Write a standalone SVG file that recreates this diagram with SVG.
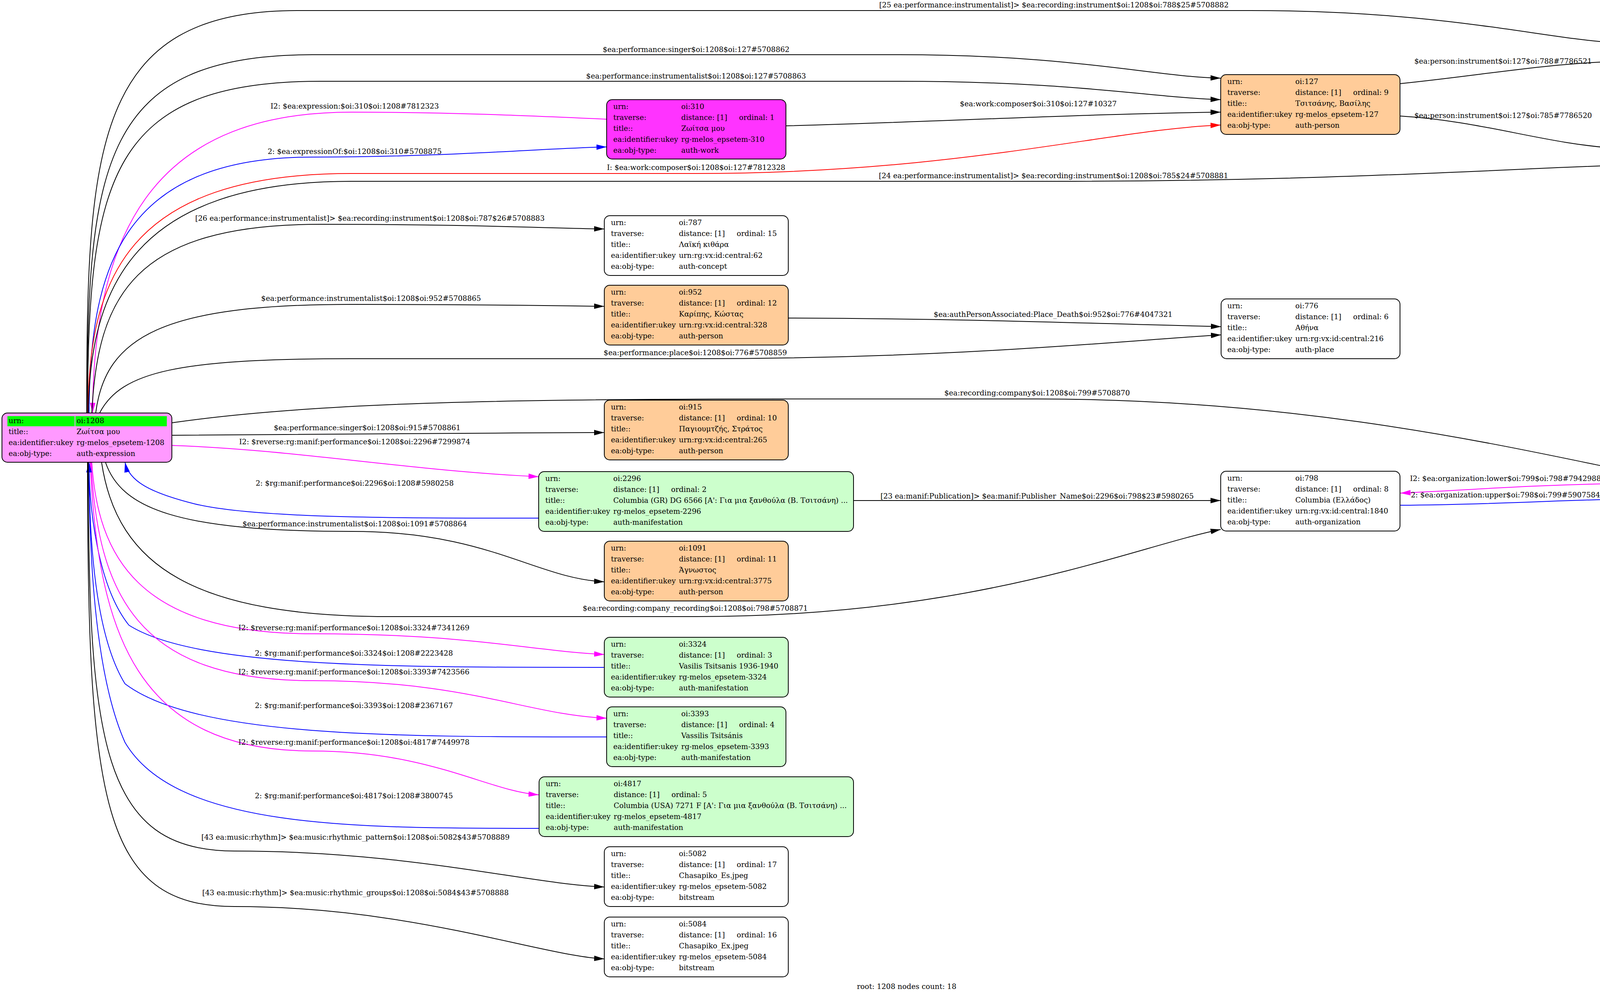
<svg xmlns="http://www.w3.org/2000/svg" width="4641" height="2549" viewBox="0 0 4641 2549">
<style>
text{font-family:"DejaVu Serif","Liberation Serif",serif;font-size:18.6px;fill:#000}
.lbl{text-anchor:middle}
.box{stroke:#000;stroke-width:2}
.white{fill:#fff}.root{fill:#ff99ff}.work{fill:#ff33ff}.person{fill:#ffcc99}.manif{fill:#ccffcc}
.e{fill:none;stroke-width:2}
.k{stroke:#000;marker-end:url(#ak)}.m{stroke:#f0f;marker-end:url(#am)}.b{stroke:#00f;marker-end:url(#ab)}.r{stroke:#f00;marker-end:url(#ar)}
</style>
<defs>
<marker id="ak" markerUnits="userSpaceOnUse" markerWidth="26" markerHeight="14" refX="26" refY="7" orient="auto"><path d="M0,0L26,7L0,14z" fill="#000"/></marker>
<marker id="am" markerUnits="userSpaceOnUse" markerWidth="26" markerHeight="14" refX="26" refY="7" orient="auto"><path d="M0,0L26,7L0,14z" fill="#f0f"/></marker>
<marker id="ab" markerUnits="userSpaceOnUse" markerWidth="26" markerHeight="14" refX="26" refY="7" orient="auto"><path d="M0,0L26,7L0,14z" fill="#00f"/></marker>
<marker id="ar" markerUnits="userSpaceOnUse" markerWidth="26" markerHeight="14" refX="26" refY="7" orient="auto"><path d="M0,0L26,7L0,14z" fill="#f00"/></marker>
</defs>
<rect width="4641" height="2549" fill="#fff"/>
<g id="edges">
<path class="e k" d="M222,1057 C222,380 240,27 760,27 L3200,27 C3700,27 3950,100 4144,110"/>
<path class="e k" d="M223,1057 C224,420 260,140 800,140 L2300,140 C2750,140 2950,196 3125,200"/>
<path class="e k" d="M224,1057 C226,460 280,208 820,208 L2300,208 C2750,208 2950,250 3125,255"/>
<path class="e m" d="M1553,305 C1350,296 1150,287 900,287 C420,287 240,560 237,1057"/>
<path class="e k" d="M2012,322 C2400,312 2750,292 3125,287"/>
<path class="e b" d="M228,1057 C230,700 300,402 800,402 C1150,402 1380,380 1553,376"/>
<path class="e r" d="M225,1057 C228,720 320,444 900,444 L1780,444 C2450,444 2850,330 3125,320"/>
<path class="e k" d="M3585,214 C3800,192 3950,163 4144,157"/>
<path class="e k" d="M3585,297 C3800,310 3950,368 4144,380"/>
<path class="e k" d="M226,1057 C230,740 340,464 900,464 L2700,464 C3400,464 3900,430 4144,423"/>
<path class="e k" d="M235,1057 C250,760 340,574 820,574 C1200,574 1400,584 1547,586"/>
<path class="e k" d="M245,1057 C270,860 420,779 900,779 C1200,779 1400,782 1547,784"/>
<path class="e k" d="M2018,814 C2500,816 2800,828 3126,836"/>
<path class="e k" d="M255,1057 C310,950 460,918 900,918 L1780,918 C2450,918 2900,870 3126,857"/>
<path class="e k" d="M440,1082 C800,1030 1300,1021 2000,1021 L2655,1021 C3300,1021 3800,1130 4123,1197"/>
<path class="e k" d="M440,1114 C900,1112 1200,1108 1547,1107"/>
<path class="e m" d="M440,1140 C750,1150 1050,1205 1379,1220"/>
<path class="e b" d="M1379,1326 C1000,1326 650,1326 500,1290 C380,1260 330,1230 320,1183"/>
<path class="e k" d="M270,1183 C310,1300 450,1360 900,1360 C1250,1360 1370,1480 1547,1489"/>
<path class="e k" d="M2185,1281 L3125,1281"/>
<path class="e k" d="M260,1183 C300,1450 500,1578 1000,1578 L1780,1578 C2500,1578 2900,1400 3125,1355"/>
<path class="e m" d="M4123,1238 C3900,1242 3750,1255 3585,1262"/>
<path class="e b" d="M3585,1293 C3800,1292 3950,1282 4123,1278"/>
<path class="e m" d="M235,1183 C250,1420 350,1622 800,1622 C1200,1622 1350,1665 1547,1675"/>
<path class="e b" d="M1547,1708 C1000,1708 500,1708 330,1600 C250,1500 228,1300 228,1183"/>
<path class="e m" d="M233,1183 C250,1520 350,1742 800,1742 C1200,1742 1350,1830 1553,1838"/>
<path class="e b" d="M1553,1886 C1000,1886 500,1886 320,1750 C240,1620 228,1360 228,1183"/>
<path class="e m" d="M231,1183 C250,1620 350,1922 800,1922 C1100,1922 1250,2025 1379,2034"/>
<path class="e b" d="M1380,2120 C900,2120 450,2120 320,1900 C240,1720 228,1400 228,1183"/>
<path class="e k" d="M226,1183 C226,1900 260,2178 600,2178 C1050,2178 1350,2262 1547,2270"/>
<path class="e k" d="M224,1183 C224,2050 260,2320 600,2320 C1050,2320 1380,2445 1547,2454"/>
<text class="lbl" x="2698" y="19">[25 ea:performance:instrumentalist]&gt; $ea:recording:instrument$oi:1208$oi:788$25#5708882</text>
<text class="lbl" x="1782" y="133">$ea:performance:singer$oi:1208$oi:127#5708862</text>
<text class="lbl" x="1782" y="201">$ea:performance:instrumentalist$oi:1208$oi:127#5708863</text>
<text class="lbl" x="908" y="278">I2: $ea:expression:$oi:310$oi:1208#7812323</text>
<text class="lbl" x="2658" y="272">$ea:work:composer$oi:310$oi:127#10327</text>
<text class="lbl" x="908" y="394">2: $ea:expressionOf:$oi:1208$oi:310#5708875</text>
<text class="lbl" x="1782" y="435">I: $ea:work:composer$oi:1208$oi:127#7812328</text>
<text class="lbl" x="3848" y="163">$ea:person:instrument$oi:127$oi:788#7786521</text>
<text class="lbl" x="3848" y="302">$ea:person:instrument$oi:127$oi:785#7786520</text>
<text class="lbl" x="2697" y="456">[24 ea:performance:instrumentalist]&gt; $ea:recording:instrument$oi:1208$oi:785$24#5708881</text>
<text class="lbl" x="947" y="565">[26 ea:performance:instrumentalist]&gt; $ea:recording:instrument$oi:1208$oi:787$26#5708883</text>
<text class="lbl" x="950" y="770">$ea:performance:instrumentalist$oi:1208$oi:952#5708865</text>
<text class="lbl" x="2696" y="811">$ea:authPersonAssociated:Place_Death$oi:952$oi:776#4047321</text>
<text class="lbl" x="1780" y="909">$ea:performance:place$oi:1208$oi:776#5708859</text>
<text class="lbl" x="2655" y="1012">$ea:recording:company$oi:1208$oi:799#5708870</text>
<text class="lbl" x="940" y="1101">$ea:performance:singer$oi:1208$oi:915#5708861</text>
<text class="lbl" x="908" y="1137">I2: $reverse:rg:manif:performance$oi:1208$oi:2296#7299874</text>
<text class="lbl" x="908" y="1243">2: $rg:manif:performance$oi:2296$oi:1208#5980258</text>
<text class="lbl" x="908" y="1347">$ea:performance:instrumentalist$oi:1208$oi:1091#5708864</text>
<text class="lbl" x="2655" y="1276">[23 ea:manif:Publication]&gt; $ea:manif:Publisher_Name$oi:2296$oi:798$23#5980265</text>
<text class="lbl" x="1780" y="1563">$ea:recording:company_recording$oi:1208$oi:798#5708871</text>
<text class="lbl" x="3854" y="1231">I2: $ea:organization:lower$oi:799$oi:798#7942988</text>
<text class="lbl" x="3854" y="1273">2: $ea:organization:upper$oi:798$oi:799#5907584</text>
<text class="lbl" x="906" y="1613">I2: $reverse:rg:manif:performance$oi:1208$oi:3324#7341269</text>
<text class="lbl" x="906" y="1678">2: $rg:manif:performance$oi:3324$oi:1208#2223428</text>
<text class="lbl" x="906" y="1726">I2: $reverse:rg:manif:performance$oi:1208$oi:3393#7423566</text>
<text class="lbl" x="906" y="1812">2: $rg:manif:performance$oi:3393$oi:1208#2367167</text>
<text class="lbl" x="906" y="1906">I2: $reverse:rg:manif:performance$oi:1208$oi:4817#7449978</text>
<text class="lbl" x="906" y="2043">2: $rg:manif:performance$oi:4817$oi:1208#3800745</text>
<text class="lbl" x="910" y="2149">[43 ea:music:rhythm]&gt; $ea:music:rhythmic_pattern$oi:1208$oi:5082$43#5708889</text>
<text class="lbl" x="910" y="2291">[43 ea:music:rhythm]&gt; $ea:music:rhythmic_groups$oi:1208$oi:5084$43#5708888</text>
</g>
<g id="n1208">
<rect class="box root" x="5" y="1057" width="435" height="126" rx="14"/>
<rect x="19" y="1065" width="172" height="26" fill="#0f0"/><rect x="193" y="1065" width="234" height="26" fill="#0f0"/>
<text x="22" y="1083">urn:</text><text x="196" y="1083">oi:1208</text>
<text x="22" y="1111">title::</text><text x="196" y="1111">Ζωίτσα μου</text>
<text x="22" y="1139">ea:identifier:ukey</text><text x="196" y="1139">rg-melos_epsetem-1208</text>
<text x="22" y="1167">ea:obj-type:</text><text x="196" y="1167">auth-expression</text>
</g>
<g id="n310">
<rect class="box work" x="1553" y="255" width="459" height="152" rx="14"/>
<text x="1570" y="279">urn:</text><text x="1744" y="279">oi:310</text>
<text x="1570" y="307">traverse:</text><text x="1744" y="307">distance: [1]</text><text x="1892" y="307">ordinal: 1</text>
<text x="1570" y="335">title::</text><text x="1744" y="335">Ζωίτσα μου</text>
<text x="1570" y="363">ea:identifier:ukey</text><text x="1744" y="363">rg-melos_epsetem-310</text>
<text x="1570" y="391">ea:obj-type:</text><text x="1744" y="391">auth-work</text>
</g>
<g id="n127">
<rect class="box person" x="3125" y="191" width="459" height="153" rx="14"/>
<text x="3142" y="215">urn:</text><text x="3316" y="215">oi:127</text>
<text x="3142" y="243">traverse:</text><text x="3316" y="243">distance: [1]</text><text x="3464" y="243">ordinal: 9</text>
<text x="3142" y="271">title::</text><text x="3316" y="271">Τσιτσάνης, Βασίλης</text>
<text x="3142" y="299">ea:identifier:ukey</text><text x="3316" y="299">rg-melos_epsetem-127</text>
<text x="3142" y="327">ea:obj-type:</text><text x="3316" y="327">auth-person</text>
</g>
<g id="n788">
<rect class="box white" x="4144" y="50" width="471" height="153" rx="14"/>
<text x="4161" y="74">urn:</text><text x="4335" y="74">oi:788</text>
<text x="4161" y="102">traverse:</text><text x="4335" y="102">distance: [1]</text><text x="4483" y="102">ordinal: 14</text>
<text x="4161" y="130">title::</text><text x="4335" y="130">Μπαγλαμάς</text>
<text x="4161" y="158">ea:identifier:ukey</text><text x="4335" y="158">urn:rg:vx:id:central:65</text>
<text x="4161" y="186">ea:obj-type:</text><text x="4335" y="186">auth-concept</text>
</g>
<g id="n785">
<rect class="box white" x="4144" y="335" width="471" height="153" rx="14"/>
<text x="4161" y="359">urn:</text><text x="4335" y="359">oi:785</text>
<text x="4161" y="387">traverse:</text><text x="4335" y="387">distance: [1]</text><text x="4483" y="387">ordinal: 13</text>
<text x="4161" y="415">title::</text><text x="4335" y="415">Τρίχορδο μπουζούκι</text>
<text x="4161" y="443">ea:identifier:ukey</text><text x="4335" y="443">urn:rg:vx:id:central:301</text>
<text x="4161" y="471">ea:obj-type:</text><text x="4335" y="471">auth-concept</text>
</g>
<g id="n787">
<rect class="box white" x="1547" y="552" width="471" height="153" rx="14"/>
<text x="1564" y="576">urn:</text><text x="1738" y="576">oi:787</text>
<text x="1564" y="604">traverse:</text><text x="1738" y="604">distance: [1]</text><text x="1886" y="604">ordinal: 15</text>
<text x="1564" y="632">title::</text><text x="1738" y="632">Λαϊκή κιθάρα</text>
<text x="1564" y="660">ea:identifier:ukey</text><text x="1738" y="660">urn:rg:vx:id:central:62</text>
<text x="1564" y="688">ea:obj-type:</text><text x="1738" y="688">auth-concept</text>
</g>
<g id="n952">
<rect class="box person" x="1547" y="730" width="471" height="153" rx="14"/>
<text x="1564" y="754">urn:</text><text x="1738" y="754">oi:952</text>
<text x="1564" y="782">traverse:</text><text x="1738" y="782">distance: [1]</text><text x="1886" y="782">ordinal: 12</text>
<text x="1564" y="810">title::</text><text x="1738" y="810">Καρίπης, Κώστας</text>
<text x="1564" y="838">ea:identifier:ukey</text><text x="1738" y="838">urn:rg:vx:id:central:328</text>
<text x="1564" y="866">ea:obj-type:</text><text x="1738" y="866">auth-person</text>
</g>
<g id="n776">
<rect class="box white" x="3126" y="765" width="458" height="153" rx="14"/>
<text x="3142" y="789">urn:</text><text x="3316" y="789">oi:776</text>
<text x="3142" y="817">traverse:</text><text x="3316" y="817">distance: [1]</text><text x="3464" y="817">ordinal: 6</text>
<text x="3142" y="845">title::</text><text x="3316" y="845">Αθήνα</text>
<text x="3142" y="873">ea:identifier:ukey</text><text x="3316" y="873">urn:rg:vx:id:central:216</text>
<text x="3142" y="901">ea:obj-type:</text><text x="3316" y="901">auth-place</text>
</g>
<g id="n915">
<rect class="box person" x="1547" y="1024" width="471" height="153" rx="14"/>
<text x="1564" y="1048">urn:</text><text x="1738" y="1048">oi:915</text>
<text x="1564" y="1076">traverse:</text><text x="1738" y="1076">distance: [1]</text><text x="1886" y="1076">ordinal: 10</text>
<text x="1564" y="1104">title::</text><text x="1738" y="1104">Παγιουμτζής, Στράτος</text>
<text x="1564" y="1132">ea:identifier:ukey</text><text x="1738" y="1132">urn:rg:vx:id:central:265</text>
<text x="1564" y="1160">ea:obj-type:</text><text x="1738" y="1160">auth-person</text>
</g>
<g id="n2296">
<rect class="box manif" x="1379" y="1207" width="806" height="153" rx="14"/>
<text x="1396" y="1231">urn:</text><text x="1570" y="1231">oi:2296</text>
<text x="1396" y="1259">traverse:</text><text x="1570" y="1259">distance: [1]</text><text x="1718" y="1259">ordinal: 2</text>
<text x="1396" y="1287">title::</text><text x="1570" y="1287">Columbia (GR) DG 6566 [A': Για μια ξανθούλα (Β. Τσιτσάνη) ...</text>
<text x="1396" y="1315">ea:identifier:ukey</text><text x="1570" y="1315">rg-melos_epsetem-2296</text>
<text x="1396" y="1343">ea:obj-type:</text><text x="1570" y="1343">auth-manifestation</text>
</g>
<g id="n798">
<rect class="box white" x="3125" y="1206" width="459" height="153" rx="14"/>
<text x="3142" y="1230">urn:</text><text x="3316" y="1230">oi:798</text>
<text x="3142" y="1258">traverse:</text><text x="3316" y="1258">distance: [1]</text><text x="3464" y="1258">ordinal: 8</text>
<text x="3142" y="1286">title::</text><text x="3316" y="1286">Columbia (Ελλάδος)</text>
<text x="3142" y="1314">ea:identifier:ukey</text><text x="3316" y="1314">urn:rg:vx:id:central:1840</text>
<text x="3142" y="1342">ea:obj-type:</text><text x="3316" y="1342">auth-organization</text>
</g>
<g id="n799">
<rect class="box white" x="4123" y="1155" width="513" height="153" rx="14"/>
<text x="4140" y="1179">urn:</text><text x="4314" y="1179">oi:799</text>
<text x="4140" y="1207">traverse:</text><text x="4314" y="1207">distance: [1]</text><text x="4462" y="1207">ordinal: 7</text>
<text x="4140" y="1235">title::</text><text x="4314" y="1235">Columbia Graphophone Co. Ltd.</text>
<text x="4140" y="1263">ea:identifier:ukey</text><text x="4314" y="1263">urn:rg:vx:id:central:1839</text>
<text x="4140" y="1291">ea:obj-type:</text><text x="4314" y="1291">auth-organization</text>
</g>
<g id="n1091">
<rect class="box person" x="1547" y="1385" width="471" height="153" rx="14"/>
<text x="1564" y="1409">urn:</text><text x="1738" y="1409">oi:1091</text>
<text x="1564" y="1437">traverse:</text><text x="1738" y="1437">distance: [1]</text><text x="1886" y="1437">ordinal: 11</text>
<text x="1564" y="1465">title::</text><text x="1738" y="1465">Άγνωστος</text>
<text x="1564" y="1493">ea:identifier:ukey</text><text x="1738" y="1493">urn:rg:vx:id:central:3775</text>
<text x="1564" y="1521">ea:obj-type:</text><text x="1738" y="1521">auth-person</text>
</g>
<g id="n3324">
<rect class="box manif" x="1547" y="1631" width="471" height="153" rx="14"/>
<text x="1564" y="1655">urn:</text><text x="1738" y="1655">oi:3324</text>
<text x="1564" y="1683">traverse:</text><text x="1738" y="1683">distance: [1]</text><text x="1886" y="1683">ordinal: 3</text>
<text x="1564" y="1711">title::</text><text x="1738" y="1711">Vasilis Tsitsanis 1936-1940</text>
<text x="1564" y="1739">ea:identifier:ukey</text><text x="1738" y="1739">rg-melos_epsetem-3324</text>
<text x="1564" y="1767">ea:obj-type:</text><text x="1738" y="1767">auth-manifestation</text>
</g>
<g id="n3393">
<rect class="box manif" x="1553" y="1809" width="459" height="153" rx="14"/>
<text x="1570" y="1833">urn:</text><text x="1744" y="1833">oi:3393</text>
<text x="1570" y="1861">traverse:</text><text x="1744" y="1861">distance: [1]</text><text x="1892" y="1861">ordinal: 4</text>
<text x="1570" y="1889">title::</text><text x="1744" y="1889">Vassilis Tsitsánis</text>
<text x="1570" y="1917">ea:identifier:ukey</text><text x="1744" y="1917">rg-melos_epsetem-3393</text>
<text x="1570" y="1945">ea:obj-type:</text><text x="1744" y="1945">auth-manifestation</text>
</g>
<g id="n4817">
<rect class="box manif" x="1380" y="1988" width="805" height="153" rx="14"/>
<text x="1397" y="2012">urn:</text><text x="1571" y="2012">oi:4817</text>
<text x="1397" y="2040">traverse:</text><text x="1571" y="2040">distance: [1]</text><text x="1719" y="2040">ordinal: 5</text>
<text x="1397" y="2068">title::</text><text x="1571" y="2068">Columbia (USA) 7271 F [A': Για μια ξανθούλα (Β. Τσιτσάνη) ...</text>
<text x="1397" y="2096">ea:identifier:ukey</text><text x="1571" y="2096">rg-melos_epsetem-4817</text>
<text x="1397" y="2124">ea:obj-type:</text><text x="1571" y="2124">auth-manifestation</text>
</g>
<g id="n5082">
<rect class="box white" x="1547" y="2167" width="471" height="153" rx="14"/>
<text x="1564" y="2191">urn:</text><text x="1738" y="2191">oi:5082</text>
<text x="1564" y="2219">traverse:</text><text x="1738" y="2219">distance: [1]</text><text x="1886" y="2219">ordinal: 17</text>
<text x="1564" y="2247">title::</text><text x="1738" y="2247">Chasapiko_Es.jpeg</text>
<text x="1564" y="2275">ea:identifier:ukey</text><text x="1738" y="2275">rg-melos_epsetem-5082</text>
<text x="1564" y="2303">ea:obj-type:</text><text x="1738" y="2303">bitstream</text>
</g>
<g id="n5084">
<rect class="box white" x="1547" y="2347" width="471" height="153" rx="14"/>
<text x="1564" y="2371">urn:</text><text x="1738" y="2371">oi:5084</text>
<text x="1564" y="2399">traverse:</text><text x="1738" y="2399">distance: [1]</text><text x="1886" y="2399">ordinal: 16</text>
<text x="1564" y="2427">title::</text><text x="1738" y="2427">Chasapiko_Ex.jpeg</text>
<text x="1564" y="2455">ea:identifier:ukey</text><text x="1738" y="2455">rg-melos_epsetem-5084</text>
<text x="1564" y="2483">ea:obj-type:</text><text x="1738" y="2483">bitstream</text>
</g>
<text class="lbl" x="2321" y="2531">root: 1208 nodes count: 18</text>
</svg>
